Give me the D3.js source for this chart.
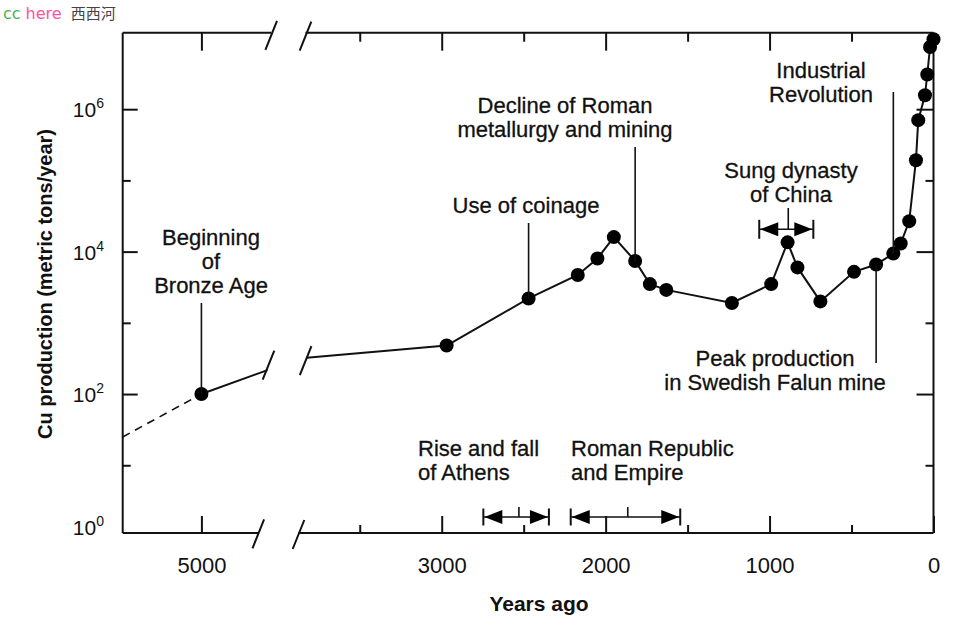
<!DOCTYPE html>
<html>
<head>
<meta charset="utf-8">
<script src="https://cdn.jsdelivr.net/npm/d3@7"></script>
<style>
  html, body { margin: 0; padding: 0; background: #fff; }
  svg { display: block; }
  text { font-family: "Liberation Sans", Arial, Helvetica, sans-serif; fill: #111; }
</style>
</head>
<body>
<svg id="chart" width="972" height="637"></svg>
<script>
// ---------------- DATA ----------------
const years = [5000, 2970, 2470, 2170, 2050, 1950, 1820, 1730, 1630, 1230, 990, 890, 830, 690, 485, 350, 245, 200, 148, 107, 93, 52, 38, 21, 0];
const production = [100, 480, 2200, 4700, 8000, 16000, 7400, 3500, 2900, 1900, 3500, 13500, 6000, 2000, 5200, 6600, 9400, 13000, 26800, 192000, 701000, 1570000, 3070000, 7480000, 9600000];
// dashed extrapolation before the Bronze Age
const earlyYears = [5480, 5000];
const earlyValues = [25, 100];
// line stubs at the axis break
const leftStubYears = [5000, 4597];
const leftStubValues = [100, 217];
const rightStubYears = [3824, 2970];
const rightStubValues = [324, 480];

const xMajorTicksRight = [3000, 2000, 1000, 0];
const xMajorTicksLeft = [5000];
const xMinorTicks = [3500, 2500, 1500, 500];
const xTickLabels = ["3000", "2000", "1000", "0"];
const yMajorTicks = [1, 1e2, 1e4, 1e6];
const yMinorTicks = [1e1, 1e3, 1e5];
const yTickExponents = ["0", "2", "4", "6"];

const noteTexts = [
  ["Beginning", "of", "Bronze Age"],
  ["Use of coinage"],
  ["Decline of Roman", "metallurgy and mining"],
  ["Sung dynasty", "of China"],
  ["Industrial", "Revolution"],
  ["Peak production", "in Swedish Falun mine"],
  ["Rise and fall", "of Athens"],
  ["Roman Republic", "and Empire"]
];
// periods: [start, end, mid] in years ago
const periodStart = [2746, 2213, 1063];
const periodEnd = [2346, 1545, 733];
const periodMid = [2529, 1865, 886];
// leader lines point at these years
const leaderYears = [5000, 2470, 1820, 245, 350];

// ---------------- LAYOUT ----------------
const svg = d3.select("#chart");
const plotLeft = 122.7, plotRight = 933.5, plotTop = 32.7, plotBottom = 533;

const xL = d3.scaleLinear().domain([5480, 4650]).range([plotLeft, 258.8]);
const xR = d3.scaleLinear().domain([3876, 0]).range([298.1, plotRight]);
const xAny = yr => (yr > 4000 ? xL(yr) : xR(yr));
const y = d3.scaleLog().domain([Math.pow(10, 0.049), Math.pow(10, 7.074)]).range([plotBottom, plotTop]);

// header
const hdr = svg.append("text").attr("x", 3).attr("y", 19)
  .style("font-family", "'DejaVu Sans', 'Noto Sans', sans-serif").style("font-size", "16px");
hdr.append("tspan").text("cc").style("fill", "#4caf50");
hdr.append("tspan").attr("dx", 5).text("here").style("fill", "#ff4fa0");
hdr.append("tspan").attr("dx", 9).text("西西河").style("fill", "#444")
  .style("font-family", "'Noto Sans CJK SC', sans-serif").style("font-size", "15px");

// ---------------- AXIS FRAME ----------------
const frame = svg.append("g").attr("stroke", "#111").attr("stroke-width", 2).attr("fill", "none");
frame.append("line").attr("x1", plotLeft).attr("x2", plotLeft).attr("y1", plotTop).attr("y2", plotBottom);
frame.append("line").attr("x1", plotRight).attr("x2", plotRight).attr("y1", plotTop).attr("y2", plotBottom);
frame.append("line").attr("x1", plotLeft).attr("x2", 258.3).attr("y1", plotBottom).attr("y2", plotBottom);
frame.append("line").attr("x1", 298.5).attr("x2", plotRight).attr("y1", plotBottom).attr("y2", plotBottom);
frame.append("line").attr("x1", plotLeft).attr("x2", 271.2).attr("y1", plotTop).attr("y2", plotTop);
frame.append("line").attr("x1", 305.5).attr("x2", plotRight).attr("y1", plotTop).attr("y2", plotTop);
function slash(g, cx, cy) {
  g.append("line").attr("x1", cx + 5.8).attr("y1", cy - 14.5).attr("x2", cx - 5.8).attr("y2", cy + 14.5);
}
slash(frame, 258.3, 533.8); slash(frame, 298.5, 534.5);
slash(frame, 271.2, 35.3); slash(frame, 305.5, 36.2);

// ---------------- TICKS ----------------
function clean(g) { g.select(".domain").remove(); g.selectAll("line").attr("stroke", "#111").attr("stroke-width", 2); }
const tickFont = g => g.selectAll("text").style("font-family", "'Liberation Sans', Arial, sans-serif").style("font-size", "22px").attr("fill", "#111");

// bottom
svg.append("g").attr("transform", `translate(0,${plotBottom})`)
  .call(d3.axisBottom(xR).tickValues(xMajorTicksRight).tickSize(-17).tickPadding(24).tickFormat((d, i) => xTickLabels[i]))
  .call(clean).call(tickFont);
svg.append("g").attr("transform", `translate(0,${plotBottom})`)
  .call(d3.axisBottom(xL).tickValues(xMajorTicksLeft).tickSize(-17).tickPadding(24).tickFormat(d3.format("d")))
  .call(clean).call(tickFont);
svg.append("g").attr("transform", `translate(0,${plotBottom})`)
  .call(d3.axisBottom(xR).tickValues(xMinorTicks).tickSize(-8).tickFormat(""))
  .call(clean);
// top
svg.append("g").attr("transform", `translate(0,${plotTop})`)
  .call(d3.axisTop(xR).tickValues(xMajorTicksRight.filter(d => d > 0)).tickSize(-18).tickFormat(""))
  .call(clean);
svg.append("g").attr("transform", `translate(0,${plotTop})`)
  .call(d3.axisTop(xL).tickValues(xMajorTicksLeft).tickSize(-18).tickFormat(""))
  .call(clean);
svg.append("g").attr("transform", `translate(0,${plotTop})`)
  .call(d3.axisTop(xR).tickValues(xMinorTicks).tickSize(-9).tickFormat(""))
  .call(clean);
// left / right
svg.append("g").attr("transform", `translate(${plotLeft},0)`)
  .call(d3.axisLeft(y).tickValues(yMajorTicks.filter(d => d > 1)).tickSize(-15).tickFormat(""))
  .call(clean);
svg.append("g").attr("transform", `translate(${plotLeft},0)`)
  .call(d3.axisLeft(y).tickValues(yMinorTicks).tickSize(-8).tickFormat(""))
  .call(clean);
svg.append("g").attr("transform", `translate(${plotRight},0)`)
  .call(d3.axisRight(y).tickValues(yMajorTicks.filter(d => d > 1)).tickSize(-17).tickFormat(""))
  .call(clean);
svg.append("g").attr("transform", `translate(${plotRight},0)`)
  .call(d3.axisRight(y).tickValues(yMinorTicks).tickSize(-8).tickFormat(""))
  .call(clean);

// y tick labels 10^n
const yl = svg.append("g").selectAll("text").data(yMajorTicks).join("text")
  .attr("x", 104)
  .attr("y", d => Math.min(y(d), plotBottom - 6) + 8)
  .attr("text-anchor", "end")
  .style("font-size", "21px");
yl.append("tspan").text("10");
yl.append("tspan").text((d, i) => yTickExponents[i]).attr("dy", -9).style("font-size", "14px");

// axis titles
svg.append("text").attr("x", 539).attr("y", 611).attr("text-anchor", "middle")
  .style("font-size", "21px").style("font-weight", "bold").text("Years ago");
svg.append("text").attr("transform", "translate(52,284) rotate(-90)").attr("text-anchor", "middle")
  .style("font-size", "20px").style("font-weight", "bold").text("Cu production (metric tons/year)");

// ---------------- DATA LINE ----------------
const lineG = svg.append("g").attr("fill", "none").attr("stroke", "#111").attr("stroke-width", 2);
const mk = (xs, vs, sx) => d3.line()(xs.map((yr, i) => [sx(yr), y(vs[i])]));
lineG.append("path").attr("d", mk(earlyYears, earlyValues, xL)).attr("stroke-dasharray", "8,6").attr("stroke-width", 1.6);
lineG.append("path").attr("d", mk(leftStubYears, leftStubValues, xL));
lineG.append("path").attr("d", mk(rightStubYears, rightStubValues, xR));
lineG.append("path").attr("d", mk(years.slice(1), production.slice(1), xR));
slash(lineG, xL(leftStubYears[1]) + 1, y(leftStubValues[1]) - 5);
slash(lineG, xR(rightStubYears[0]) - 1, y(rightStubValues[0]) + 3);

// dots
svg.append("g").selectAll("circle").data(years).join("circle")
  .attr("cx", d => xAny(d)).attr("cy", (d, i) => y(production[i])).attr("r", 7).attr("fill", "#000");

// ---------------- ANNOTATIONS ----------------
const notePos = [
  { x: 211, y: 245, a: "middle" }, { x: 526, y: 213, a: "middle" }, { x: 565, y: 113, a: "middle" },
  { x: 791, y: 178, a: "middle" }, { x: 821, y: 78, a: "middle" }, { x: 775, y: 366, a: "middle" },
  { x: 418, y: 456, a: "start" }, { x: 571, y: 456, a: "start" }
];
noteTexts.forEach((lines, i) => {
  const t = svg.append("text").attr("text-anchor", notePos[i].a).style("font-size", "22px")
    .attr("stroke", "#111").attr("stroke-width", 0.3);
  lines.forEach((ln, j) => t.append("tspan").attr("x", notePos[i].x).attr("y", notePos[i].y + j * 24).text(ln));
});

// leader lines
const leaderEnds = [303, 223, 147, 92, 363];
const valOf = yr => production[years.indexOf(yr)];
const lead = svg.append("g").attr("stroke", "#111").attr("stroke-width", 1.6);
leaderYears.forEach((yr, i) => {
  lead.append("line").attr("x1", xAny(yr)).attr("x2", xAny(yr))
    .attr("y1", leaderEnds[i]).attr("y2", y(valOf(yr)));
});

// period brackets
const bracketY = [517, 517, 229.3];
const bracketHalf = [8.5, 8.5, 9.5];
const midTop = [507, 507, 208];
const br = svg.append("g");
periodStart.forEach((s, i) => {
  const xs = xR(s), xe = xR(periodEnd[i]), xm = xR(periodMid[i]), by = bracketY[i], h = bracketHalf[i];
  br.append("line").attr("x1", xs).attr("x2", xe).attr("y1", by).attr("y2", by).attr("stroke", "#111").attr("stroke-width", 1.6);
  [xs, xe].forEach(xx => br.append("line").attr("x1", xx).attr("x2", xx).attr("y1", by - h).attr("y2", by + h).attr("stroke", "#111").attr("stroke-width", 2));
  br.append("line").attr("x1", xm).attr("x2", xm).attr("y1", midTop[i]).attr("y2", by).attr("stroke", "#111").attr("stroke-width", 1.6);
  br.append("path").attr("d", `M${xs + 1},${by} L${xs + 19},${by - 7} L${xs + 19},${by + 7} Z`).attr("fill", "#000");
  br.append("path").attr("d", `M${xe - 1},${by} L${xe - 19},${by - 7} L${xe - 19},${by + 7} Z`).attr("fill", "#000");
});
</script>
</body>
</html>
